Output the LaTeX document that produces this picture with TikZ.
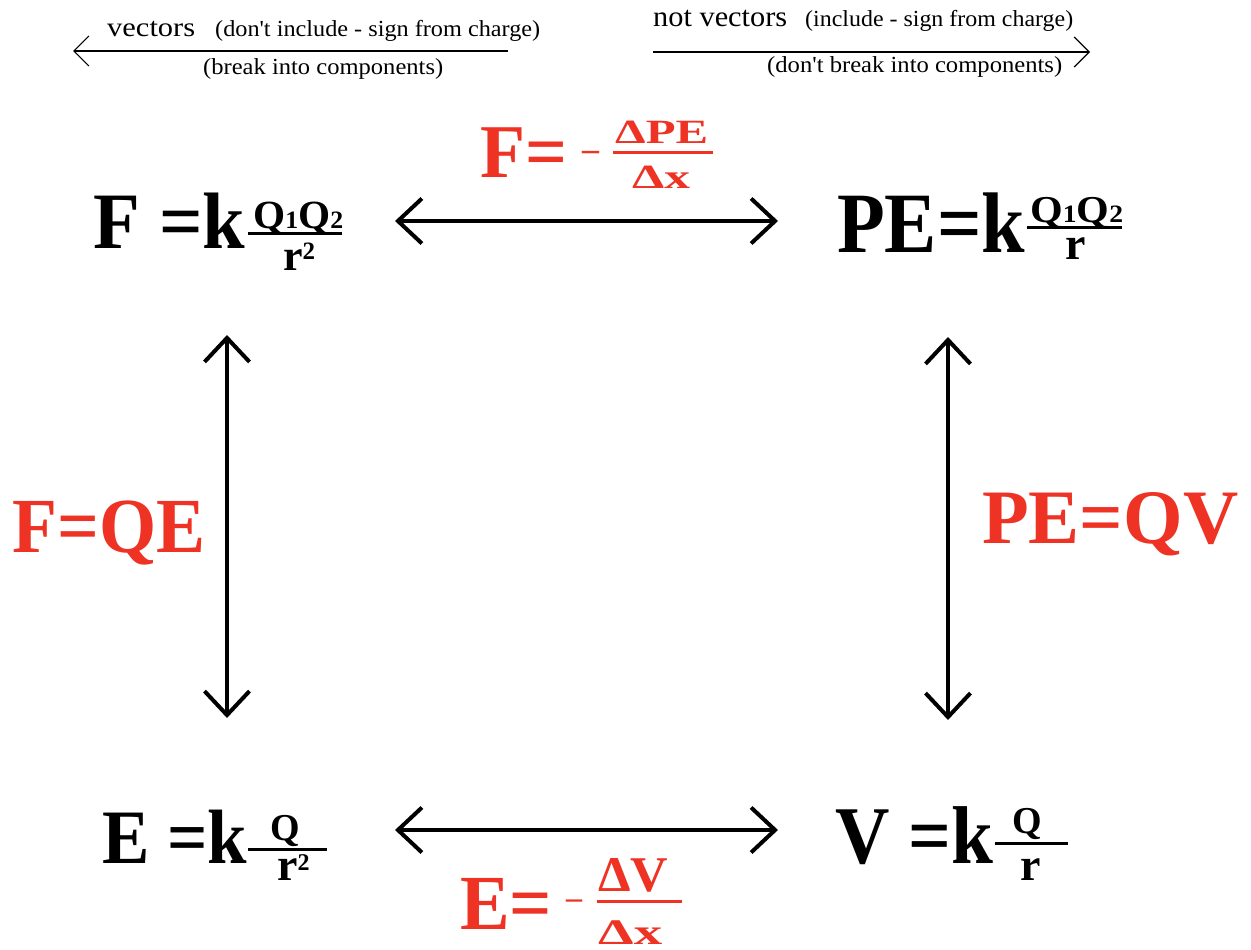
\documentclass[tikz,border=0pt]{standalone}
\usepackage{fontspec}
\setmainfont{Liberation Serif}
\usepackage{graphicx}
\usetikzlibrary{arrows.meta}
\definecolor{eqred}{RGB}{238,50,36}
\newcommand{\fs}[1]{\fontsize{#1}{#1}\selectfont}
\newcommand{\fitw}[2]{\resizebox{#1}{\height}{#2}}
\begin{document}
\begin{tikzpicture}[x=1pt,y=-1pt,
  lbl/.style={inner sep=0pt, anchor=base west},
  eq/.style={lbl},
  redtxt/.style={lbl, text=eqred},
  num/.style={text depth=0pt},
  den/.style={text height=18pt},
  bar/.style={line width=3pt},
  bigarrow/.style={line width=4pt, {Straight Barb[length=24pt,width=45pt]}-{Straight Barb[length=24pt,width=45pt]}},
  thinarrow/.style={line width=1.2pt, -{Straight Barb[length=15pt,width=30pt]}},
]
\useasboundingbox[fill=white] (0,0) rectangle (1251,950);

% header, left
\node[lbl, font=\fs{27}] (vec) at (107,37) {\fitw{88pt}{vectors}};
\node[lbl, font=\fs{23}] (vecinc) at (215,37) {\fitw{325pt}{(don\textquotesingle t include - sign from charge)}};
\node[lbl, font=\fs{23}] (vecbrk) at (203,75) {\fitw{240pt}{(break into components)}};
\coordinate (vla) at (508,51);
\coordinate (vlb) at (73,51);
\draw[thinarrow] (vla) -- (vlb);

% header, right
\node[lbl, font=\fs{29}] (nvec) at (653,27) {\fitw{134pt}{not vectors}};
\node[lbl, font=\fs{23}] (nvecinc) at (805,27) {\fitw{268pt}{(include - sign from charge)}};
\node[lbl, font=\fs{23}] (nvecbrk) at (767,73) {\fitw{295pt}{(don\textquotesingle t break into components)}};
\coordinate (nla) at (653,52);
\coordinate (nlb) at (1090,52);
\draw[thinarrow] (nla) -- (nlb);

% F = k Q1Q2/r^2
\node[eq, font=\bfseries\fs{80}] (F1) at (93,248) {\fitw{152pt}{F =k}};
\node[eq, num, font=\bfseries\fs{40}] (F1n) at (253,228) {\fitw{90pt}{Q{\fs{25}1}Q{\fs{25}2}}};
\draw[bar] (248,233) -- (342,233);
\node[eq, den, font=\bfseries\fs{44}] (F1d) at (283,270) {r\raisebox{11pt}{\fs{25}2}};

% PE = k Q1Q2/r
\node[eq, font=\bfseries\fs{86}] (P1) at (837,252) {\fitw{188pt}{PE=k}};
\node[eq, num, font=\bfseries\fs{38}] (P1n) at (1030,222) {\fitw{93pt}{Q{\fs{25}1}Q{\fs{25}2}}};
\draw[bar] (1027,227) -- (1122,227);
\node[eq, den, font=\bfseries\fs{46}] (P1d) at (1065,259) {r};

% E = k Q/r^2
\node[eq, font=\bfseries\fs{77}] (E1) at (102,863) {\fitw{145pt}{E =k}};
\node[eq, num, font=\bfseries\fs{38}] (E1n) at (270,840) {Q};
\draw[bar] (248,849) -- (327,849);
\node[eq, den, font=\bfseries\fs{46}] (E1d) at (277,880) {r\raisebox{10pt}{\fs{24}2}};

% V = k Q/r
\node[eq, font=\bfseries\fs{82}] (V1) at (835,863) {\fitw{158pt}{V =k}};
\node[eq, num, font=\bfseries\fs{38}] (V1n) at (1012,833) {Q};
\draw[bar] (995,843) -- (1068,843);
\node[eq, den, font=\bfseries\fs{46}] (V1d) at (1020,880) {r};

% red: F = - dPE/dx
\node[redtxt, font=\bfseries\fs{76}] (R1) at (480,177) {\fitw{87pt}{F=}};
\node[redtxt, font=\bfseries\fs{34}] (R1m) at (582,160) {\fitw{17pt}{–}};
\draw[bar, eqred] (613,152) -- (713,152);
\node[redtxt, num, font=\bfseries\fs{34}] (R1n) at (615,143) {\fitw{93pt}{ΔPE}};
\node[redtxt, den, font=\bfseries\fs{34}] (R1d) at (632,188) {\fitw{58pt}{Δx}};

% red: E = - dV/dx
\node[redtxt, font=\bfseries\fs{78}] (R2) at (460,929) {\fitw{92pt}{E=}};
\node[redtxt, font=\bfseries\fs{32}] (R2m) at (566,908) {\fitw{16pt}{–}};
\draw[bar, eqred] (597,901) -- (682,901);
\node[redtxt, num, font=\bfseries\fs{50}] (R2n) at (598,891) {\fitw{70pt}{ΔV}};
\node[redtxt, den, text depth=0pt, font=\bfseries\fs{36}] (R2d) at (598,944) {\fitw{64pt}{Δx}};

% red side labels
\node[redtxt, font=\bfseries\fs{78}] (RQE) at (12,552) {\fitw{193pt}{F=QE}};
\node[redtxt, font=\bfseries\fs{77}] (RPV) at (982,543) {\fitw{256pt}{PE=QV}};

% big arrows
\coordinate (hta) at (395,221);
\coordinate (htb) at (778,221);
\coordinate (hba) at (395,830);
\coordinate (hbb) at (778,830);
\coordinate (vla2) at (227,335);
\coordinate (vlb2) at (227,718);
\coordinate (vra) at (948,337);
\coordinate (vrb) at (948,720);
\draw[bigarrow] (hta) -- (htb);
\draw[bigarrow] (hba) -- (hbb);
\draw[bigarrow] (vla2) -- (vlb2);
\draw[bigarrow] (vra) -- (vrb);
\end{tikzpicture}
\end{document}
